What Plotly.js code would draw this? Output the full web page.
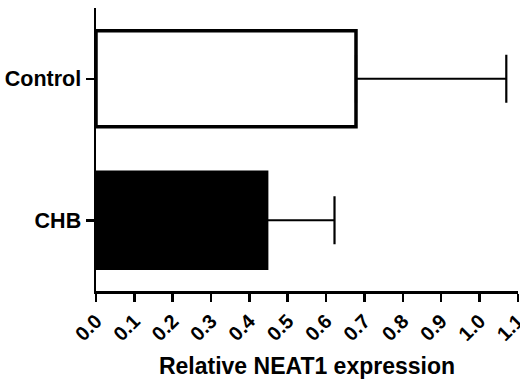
<!DOCTYPE html>
<html>
<head>
<meta charset="utf-8">
<script src="https://cdn.plot.ly/plotly-3.0.1.min.js"></script>
<style>html,body{margin:0;padding:0;background:#fff;}#chart{width:520px;height:379px;}</style>
</head>
<body>
<div id="chart"></div>
<script>
const categories = ["Control", "CHB"];
const means = [0.678, 0.445];
const errPlus = [0.392, 0.177];
const fills = ["#ffffff", "#000000"];
const xTickVals = [0, 0.1, 0.2, 0.3, 0.4, 0.5, 0.6, 0.7, 0.8, 0.9, 1.0, 1.1];
const xTickText = ["0.0","0.1","0.2","0.3","0.4","0.5","0.6","0.7","0.8","0.9","1.0","1.1"];

const trace = {
  type: "bar",
  orientation: "h",
  y: categories,
  x: means,
  marker: {color: fills, line: {color: "#000", width: 3.5}},
  error_x: {type: "data", symmetric: false, array: errPlus, arrayminus: [0, 0], color: "#000", thickness: 2.2, width: 24},
  hoverinfo: "none"
};

const layout = {
  width: 520, height: 379,
  margin: {l: 96, r: 2, t: 8, b: 88},
  paper_bgcolor: "#fff", plot_bgcolor: "#fff",
  showlegend: false,
  bargap: 0.32,
  font: {family: "Liberation Sans, Arial, sans-serif", color: "#000"},
  xaxis: {
    range: [0, 1.1005], tickvals: xTickVals, ticktext: xTickText,
    tickangle: -45, ticks: "outside", ticklen: 8, tickwidth: 2.5, tickcolor: "#000",
    ticklabeloverflow: "allow",
    showline: true, linewidth: 2.5, linecolor: "#000", showgrid: false, zeroline: false,
    tickfont: {size: 20, weight: "bold"},
    title: {text: "<b>Relative NEAT1 expression</b>", font: {size: 23}, standoff: 17}
  },
  yaxis: {
    type: "category", categoryorder: "array", categoryarray: ["CHB", "Control"],
    range: [-0.5, 1.5],
    ticks: "outside", ticklen: 8, tickwidth: 2.5, tickcolor: "#000",
    ticklabelstandoff: 0,
    showline: true, linewidth: 2.5, linecolor: "#000", showgrid: false, zeroline: false,
    tickfont: {size: 21.5, weight: "bold"}
  }
};

Plotly.newPlot("chart", [trace], layout, {staticPlot: true, displayModeBar: false});
</script>
</body>
</html>
